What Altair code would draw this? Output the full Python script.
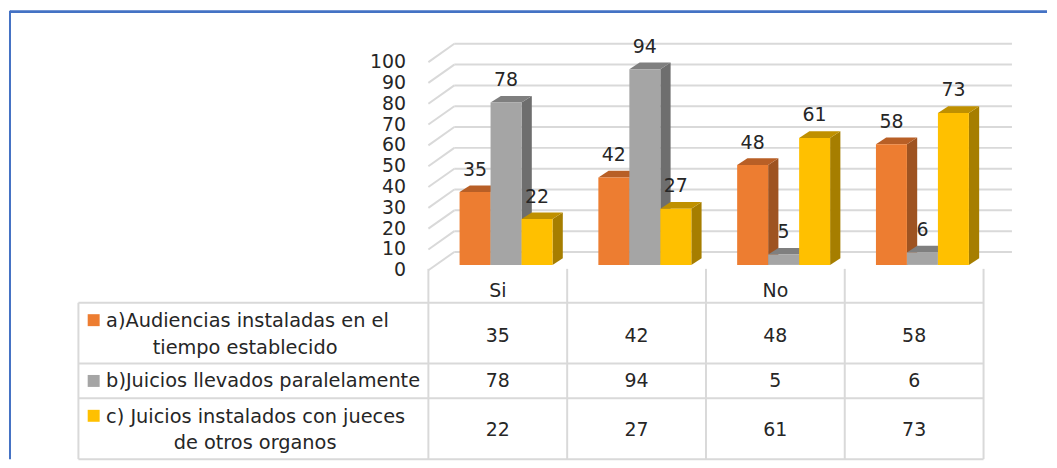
import altair as alt
import pandas as pd

categories = ["Si", "", "No", ""]
series_names = ["a", "b", "c"]
serie_a = [35, 42, 48, 58]
serie_b = [78, 94, 5, 6]
serie_c = [22, 27, 61, 73]
ticks = [0, 10, 20, 30, 40, 50, 60, 70, 80, 90, 100]
front_colors = ["#ed7d31", "#a5a5a5", "#ffc000"]
side_colors = ["#9e5321", "#6e6e6e", "#a67e00"]
top_colors = ["#b85f26", "#7f7f7f", "#bf9000"]
legend_lines = [
    ("a)Audiencias instaladas en el", "tiempo establecido"),
    ("b)Juicios llevados paralelamente",),
    ("c) Juicios instalados con jueces", "de otros organos"),
]

FONT = "DejaVu Sans"
FS = 19
FS_LEGEND = 19.4
TXT = "#262626"
GRID = "#d9d9d9"

X = alt.Scale(domain=[0, 4], range=[420, 977.3], nice=False, zero=False)
Y = alt.Scale(domain=[0, 100], range=[257, 48], nice=False, zero=False)
xq = lambda f: alt.X(f, type="quantitative", scale=X, axis=None)
yq = lambda f: alt.Y(f, type="quantitative", scale=Y, axis=None)

UNIT = 139.3
BAR = 31.1 / UNIT
START = 31.3 / UNIT
DX = 10.3 / UNIT
DY = 6.6 / 2.09
table = [serie_a, serie_b, serie_c]


def bar_layers(s):
    rows, side, top = [], [], []
    for g, v in enumerate(table[s]):
        l = g + START + s * BAR
        r = l + BAR
        rows.append({"l": l, "r": r, "v": v, "b": 0})
        side += [
            {"g": g, "x": r, "y": v, "y2": 0},
            {"g": g, "x": r + DX, "y": v + DY, "y2": DY},
        ]
        top += [
            {"g": g, "y": v, "x": l, "x2": r},
            {"g": g, "y": v + DY, "x": l + DX, "x2": r + DX},
        ]
    return [
        alt.Chart(pd.DataFrame(side)).mark_area(color=side_colors[s], interpolate="linear").encode(
            x=xq("x"), y=yq("y"), y2="y2:Q", detail="g:N"),
        alt.Chart(pd.DataFrame(top)).mark_area(color=top_colors[s], orient="horizontal", interpolate="linear").encode(
            y=yq("y"), x=xq("x"), x2="x2:Q", detail="g:N"),
        alt.Chart(pd.DataFrame(rows)).mark_rect(color=front_colors[s]).encode(
            x=xq("l"), x2="r:Q", y=yq("v"), y2="b:Q"),
    ]


FRONT_DROP = 2.6
BACK_RISE = 6.2
BACK_L = 26 / UNIT
BACK_R = 4 + 28.5 / UNIT

grid_h = pd.DataFrame({"t": ticks})
grid_h = grid_h.assign(y=grid_h.t + BACK_RISE, l=BACK_L, r=BACK_R)
wall = pd.DataFrame(
    [{"t": t, "x": 0, "y": t - FRONT_DROP} for t in ticks]
    + [{"t": t, "x": BACK_L, "y": t + BACK_RISE} for t in ticks]
)
grid_layers = [
    alt.Chart(grid_h).mark_rule(color=GRID, strokeWidth=2).encode(x=xq("l"), x2="r:Q", y=yq("y")),
    alt.Chart(wall).mark_line(color=GRID, strokeWidth=2).encode(x=xq("x"), y=yq("y"), detail="t:N"),
]

tick_df = pd.DataFrame({"t": ticks, "y": [t - FRONT_DROP for t in ticks]})
tick_text = alt.Chart(tick_df).mark_text(
    font=FONT, fontSize=FS, color=TXT, align="right", baseline="middle"
).encode(x=alt.value(397.5), y=yq("y"), text="t:Q")

lab = []
for s in range(3):
    for g, v in enumerate(table[s]):
        lab.append({"x": g + START + (s + 0.5) * BAR, "v": v, "s": str(v)})
data_labels = alt.Chart(pd.DataFrame(lab)).mark_text(
    font=FONT, fontSize=FS, color=TXT, align="center", baseline="middle", dy=-22.5
).encode(x=xq("x"), y=yq("v"), text="s:N")

# table
ROW_LINES = [295, 356, 391, 452]
LEFT_EDGE = 68.7
RIGHT_EDGE = 977.3
v_df = pd.DataFrame({"x": [0, 1, 2, 3, 4]})
table_v = alt.Chart(v_df).mark_rule(color=GRID, strokeWidth=2).encode(
    x=xq("x"), y=alt.value(261), y2=alt.value(452))
table_h = [
    alt.Chart(pd.DataFrame({"k": [i]})).mark_rule(color=GRID, strokeWidth=2).encode(
        x=alt.value(LEFT_EDGE), x2=alt.value(RIGHT_EDGE), y=alt.value(y))
    for i, y in enumerate(ROW_LINES)
]
table_left = alt.Chart(pd.DataFrame({"k": [0]})).mark_rule(color=GRID, strokeWidth=2).encode(
    x=alt.value(LEFT_EDGE), y=alt.value(295), y2=alt.value(452))

cat_df = pd.DataFrame({"x": [g + 0.5 for g in range(4)], "c": categories})
cat_text = alt.Chart(cat_df).mark_text(font=FONT, fontSize=FS, color=TXT, baseline="middle").encode(
    x=xq("x"), y=alt.value(283), text="c:N")

ROW_Y = [328, 374, 423]
cells = []
for s in range(3):
    for g, v in enumerate(table[s]):
        cells.append({"x": g + 0.5, "ypx": ROW_Y[s], "s": str(v)})
cell_layers = [
    alt.Chart(pd.DataFrame([c for c in cells if c["ypx"] == yy])).mark_text(
        font=FONT, fontSize=FS, color=TXT, baseline="middle"
    ).encode(x=xq("x"), y=alt.value(yy), text="s:N")
    for yy in ROW_Y
]

legend_specs = [
    (legend_lines[0][0], "left", 96.5, 313.5),
    (legend_lines[0][1], "center", 236, 340),
    (legend_lines[1][0], "left", 96.5, 374),
    (legend_lines[2][0], "left", 96.5, 409.5),
    (legend_lines[2][1], "center", 246, 436),
]
legend_layers = [
    alt.Chart(pd.DataFrame({"t": [t]})).mark_text(
        font=FONT, fontSize=FS_LEGEND, color=TXT, baseline="middle", align=a
    ).encode(x=alt.value(x), y=alt.value(y), text="t:N")
    for t, a, x, y in legend_specs
]
swatch_layers = [
    alt.Chart(pd.DataFrame({"s": [series_names[i]]})).mark_square(color=front_colors[i], size=144, opacity=1).encode(
        x=alt.value(84), y=alt.value(y))
    for i, y in enumerate([312.5, 373.5, 408.5])
]

frame = [
    alt.Chart(pd.DataFrame({"k": [0]})).mark_rule(color="#4472c4", strokeWidth=2.7).encode(
        x=alt.value(0), x2=alt.value(1041), y=alt.value(2.8)),
    alt.Chart(pd.DataFrame({"k": [0]})).mark_rule(color="#4472c4", strokeWidth=2).encode(
        x=alt.value(0), y=alt.value(2), y2=alt.value(452)),
]

bars = bar_layers(0) + bar_layers(1) + bar_layers(2)
chart = alt.layer(
    *frame, *grid_layers, table_v, table_left, *table_h, *bars, data_labels, tick_text,
    cat_text, *cell_layers, *legend_layers, *swatch_layers,
).properties(width=1041, height=452, padding=0, background="white"
).configure_view(stroke=None)

chart.save("out.html", embed_options={"renderer": "svg", "actions": False})
